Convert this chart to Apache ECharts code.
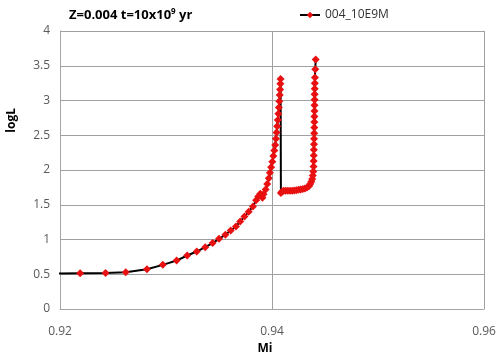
<!DOCTYPE html>
<html>
<head>
<meta charset="utf-8">
<script src="https://cdn.jsdelivr.net/npm/echarts@6/dist/echarts.min.js"></script>
<style>html,body{margin:0;padding:0;background:#fff}#c{width:500px;height:361px}</style>
</head>
<body>
<div id="c"></div>
<script>
var seriesName = '004_10E9M';
var xTicks = [0.92, 0.94, 0.96];
var yTicks = [0, 0.5, 1, 1.5, 2, 2.5, 3, 3.5, 4];
var mi = [
  0.9195, 0.9219, 0.9243, 0.9262, 0.9282, 0.9297, 0.9310, 0.9320, 0.9329, 0.9337,
  0.9344, 0.9350, 0.9356, 0.9361, 0.9366, 0.9370, 0.9374, 0.9378, 0.9382, 0.9385,
  0.9387, 0.9389, 0.9391, 0.9392, 0.9394, 0.93955, 0.9397, 0.9398, 0.93992, 0.94003,
  0.94013, 0.94022, 0.9403, 0.94037, 0.94043, 0.94049, 0.94055, 0.9406, 0.94065, 0.94069,
  0.94073, 0.94076, 0.94079, 0.94081, 0.94084,
  0.94095, 0.9411, 0.9413, 0.9415, 0.9417, 0.9419, 0.9421, 0.9423, 0.9425, 0.9427,
  0.9429, 0.9431, 0.9433, 0.9435, 0.9436, 0.9437, 0.9438, 0.94385, 0.9439, 0.94392,
  0.94393, 0.94394, 0.94395, 0.94396, 0.94397, 0.94398, 0.94399, 0.94400, 0.94400, 0.94401,
  0.94401, 0.94402, 0.94402, 0.94403, 0.94404, 0.94405, 0.94408, 0.94412
];
var logL = [
  0.511, 0.515, 0.517, 0.530, 0.573, 0.635, 0.697, 0.770, 0.827, 0.890,
  0.948, 1.010, 1.068, 1.130, 1.188, 1.260, 1.330, 1.400, 1.476, 1.563,
  1.620, 1.660, 1.600, 1.650, 1.720, 1.800, 1.880, 1.960, 2.040, 2.120,
  2.200, 2.280, 2.360, 2.450, 2.540, 2.630, 2.720, 2.810, 2.900, 2.990,
  3.080, 3.160, 3.240, 3.310, 1.670,
  1.690, 1.700, 1.700, 1.700, 1.700, 1.700, 1.705, 1.710, 1.715, 1.720,
  1.725, 1.735, 1.750, 1.770, 1.800, 1.830, 1.870, 1.920, 1.980, 2.050,
  2.130, 2.210, 2.290, 2.370, 2.450, 2.530, 2.610, 2.690, 2.770, 2.850,
  2.930, 3.010, 3.090, 3.170, 3.250, 3.330, 3.450, 3.590
];
var points = mi.map(function (x, i) { return [x, logL[i]]; });

var chart = echarts.init(document.getElementById('c'));
var font = "'Open Sans', 'Liberation Sans', sans-serif";
chart.setOption({
  animation: false,
  textStyle: { fontFamily: font },
  title: {
    text: '{b|Z=0.004 t=10x10}{s|9}{b| yr}',
    left: 64, top: 3,
    textStyle: {
      rich: {
        b: { fontFamily: font, fontSize: 13, fontWeight: 'bold', color: '#000' },
        s: { fontFamily: font, fontSize: 8, fontWeight: 'bold', color: '#000', verticalAlign: 'top', padding: [0, 0, 6, 0] }
      }
    }
  },
  legend: {
    left: 294, top: 4,
    itemWidth: 20, itemHeight: 8, itemGap: 4,
    textStyle: { fontFamily: font, fontSize: 12, color: '#333' },
    data: [seriesName]
  },
  grid: { left: 60, right: 16, top: 31, bottom: 52 },
  xAxis: {
    type: 'value', min: xTicks[0], max: xTicks[xTicks.length - 1], interval: 0.02,
    name: 'Mi', nameLocation: 'middle', nameGap: 28,
    nameTextStyle: { fontFamily: font, fontSize: 12, fontWeight: 'bold', color: '#000', padding: [0, 14, 0, 0] },
    axisLine: { lineStyle: { color: '#a6a6a6' } },
    axisTick: { show: false },
    axisLabel: { margin: 17, fontSize: 12, color: '#595959', formatter: function (v) { return v.toFixed(2); } },
    splitLine: { show: true, lineStyle: { color: '#a0a0a0' } }
  },
  yAxis: {
    type: 'value', min: yTicks[0], max: yTicks[yTicks.length - 1], interval: 0.5,
    axisLine: { show: true, lineStyle: { color: '#a6a6a6' } },
    axisTick: { show: false },
    axisLabel: { margin: 10, fontSize: 12, color: '#595959' },
    splitLine: { show: true, lineStyle: { color: '#a0a0a0' } }
  },
  graphic: [{
    type: 'text', left: 6, top: 108, rotation: Math.PI / 2,
    style: { text: 'logL', font: 'bold 12px ' + font, fill: '#000' }
  }],
  series: [{
    name: seriesName, type: 'line', data: points,
    showSymbol: true, showAllSymbol: true,
    symbol: 'diamond', symbolSize: 8,
    itemStyle: { color: '#e81010' },
    lineStyle: { color: '#000', width: 2 },
    clip: true
  }]
});
</script>
</body>
</html>
